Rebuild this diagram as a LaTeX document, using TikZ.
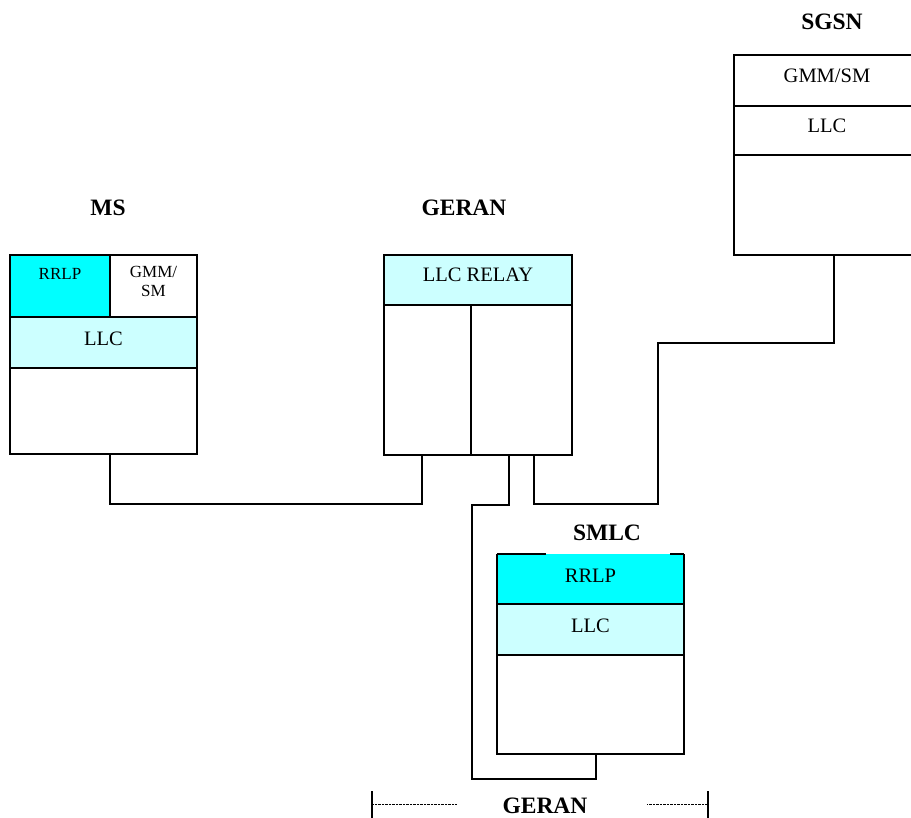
\documentclass[tikz,border=0pt]{standalone}
\usepackage{fontspec}
\setmainfont{Liberation Serif}
\usepackage{tikz}
\usetikzlibrary{positioning, calc}
\definecolor{rrlpcyan}{RGB}{0,255,255}
\definecolor{llccyan}{RGB}{204,255,255}

\begin{document}
\begin{tikzpicture}[x=1pt,y=-1pt,line width=1.1pt,
            cell/.style={draw, rectangle, inner sep=0pt, outer sep=0pt,
                anchor=north west, text depth=7pt,
                font=\fontsize{20.5}{23}\selectfont},
            smallcell/.style={cell, font=\fontsize{17}{19.5}\selectfont, align=center},
            title/.style={font=\fontsize{23.5}{26}\selectfont\bfseries},
            link/.style={draw, line width=1.1pt}]
            \useasboundingbox (0,0) rectangle (911,818);
            \clip (0,0) rectangle (911,818);

            % Define the MS stack
            \node[title] (MS) at (108,208) {MS};
            \node[smallcell, fill=rrlpcyan, minimum width=100, minimum height=62,
                text depth=24pt] (msrrlp) at (10,255) {RRLP};
            \node[smallcell, minimum width=87, minimum height=62,
                text depth=9pt] (msgmm) [right=0pt of msrrlp] {GMM/\\SM};
            \node[cell, fill=llccyan, minimum width=187, minimum height=51]
                (msllc) [below=0pt of msrrlp.south west, anchor=north west] {LLC};
            \node[cell, minimum width=187, minimum height=86]
                (mslow) [below=0pt of msllc.south west, anchor=north west] {};

            % Define the GERAN stack
            \node[title] (GERAN) at (464,208) {GERAN};
            \node[cell, fill=llccyan, minimum width=188, minimum height=50,
                text depth=10pt] (relay) at (384,255) {LLC RELAY};
            \node[cell, minimum width=87, minimum height=150]
                (gleft) [below=0pt of relay.south west, anchor=north west] {};
            \node[cell, minimum width=101, minimum height=150]
                (gright) [right=0pt of gleft] {};

            % Define the SGSN stack
            \node[title] (SGSN) at (832,22) {SGSN};
            \node[cell, minimum width=200, minimum height=51,
                text depth=10pt] (sggmm) at (734,55) {\hspace{-14pt}GMM/SM};
            \node[cell, minimum width=200, minimum height=49,
                text depth=10pt] (sgllc) [below=0pt of sggmm.south west, anchor=north west] {\hspace{-14pt}LLC};
            \node[cell, minimum width=200, minimum height=100]
                (sglow) [below=0pt of sgllc.south west, anchor=north west] {};

            % Define the SMLC stack
            \node[title] (SMLC) at (607,533) {SMLC};
            \node[cell, draw=none, fill=rrlpcyan, minimum width=187, minimum height=50]
                (smrrlp) at (497,554) {RRLP};
            \node[cell, fill=llccyan, minimum width=187, minimum height=51]
                (smllc) [below=0pt of smrrlp.south west, anchor=north west] {LLC};
            \node[cell, minimum width=187, minimum height=99]
                (smlow) [below=0pt of smllc.south west, anchor=north west] {};
            \draw (smrrlp.north west) -- ++(49,0)
                  (smrrlp.north east) -- ++(-14,0)
                  (smrrlp.north west) -- (smrrlp.south west)
                  (smrrlp.north east) -- (smrrlp.south east);

            % Connect the stacks
            \path[link] (msrrlp.east |- mslow.south) -- ++(0,50)
                -| ([xshift=-5.5pt]gleft.south);
            \path[link] ([xshift=-12.5pt]gright.south) -- ++(0,50) -- ++(-37,0)
                -- ++(0,274) -| ([xshift=5.5pt]smlow.south);
            \path[link] ([xshift=12.5pt]gright.south) -- ++(0,49) -- ++(124,0)
                -- ++(0,-161) -| ($(sglow.south west)+(100,0)$);

            % GERAN span below
            \node[title] (geranspan) at (545,806) {GERAN};
            \coordinate (spanl) at (372,804);
            \coordinate (spanr) at (708,804);
            \draw ([yshift=-25pt]spanl) -- ([yshift=13pt]spanl)
                  ([yshift=-25pt]spanr) -- ([yshift=13pt]spanr);
            \draw[line width=0.6pt, dash pattern=on 0.7pt off 0.7pt]
                (spanl) -- ++(85,0) (spanr) -- ++(-61,0);
\end{tikzpicture}
\end{document}
